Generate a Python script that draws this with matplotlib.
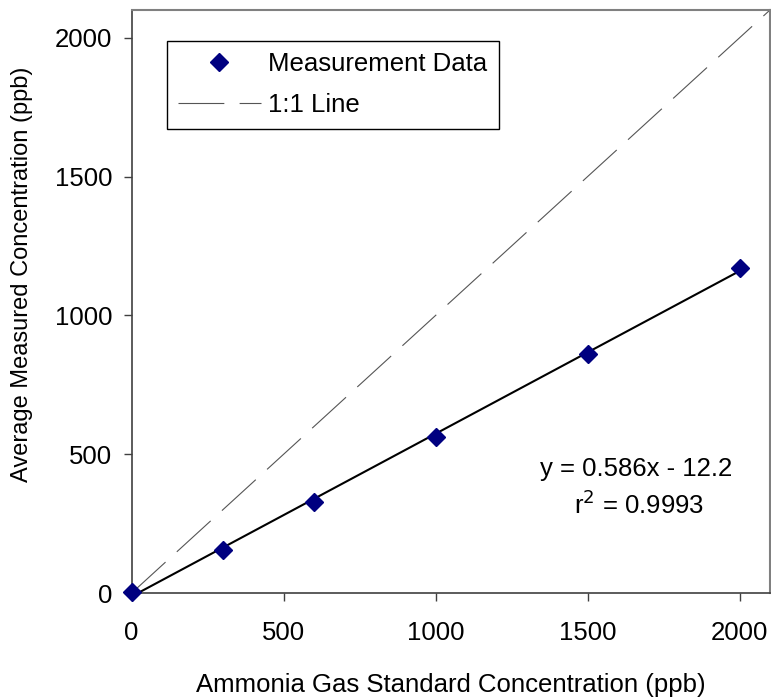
import matplotlib.pyplot as plt
import numpy as np

plt.rcParams['font.family'] = ['Liberation Sans', 'DejaVu Sans']
plt.rcParams['lines.scale_dashes'] = False

# Standard vs. measured ammonia concentration (ppb)
standard_ppb = [0, 300, 600, 1000, 1500, 2000]
measured_ppb = [2, 155, 328, 563, 860, 1170]
fit_slope = 0.586
fit_intercept = -12.2
fit_r2 = 0.9993

fs = 18.5

fig = plt.figure(figsize=(7.71, 6.98), dpi=100)
ax = fig.add_axes([0.1708, 0.1504, 0.8279, 0.8353])

# 1:1 reference line
ax.plot([0, 2100], [0, 2100], color='#555555', linewidth=0.8,
        dashes=(33, 11), label='1:1 Line', zorder=2)

# linear fit
fit_x = np.array([0, 2000])
ax.plot(fit_x, fit_slope * fit_x + fit_intercept, color='black',
        linewidth=1.5, zorder=3)

ax.plot(standard_ppb, measured_ppb, linestyle='none', marker='D',
        markersize=9.5, color='#000080', label='Measurement Data',
        clip_on=False, zorder=4)

ax.set_xlim(0, 2100)
ax.set_ylim(0, 2100)
ax.set_xticks([0, 500, 1000, 1500, 2000])
ax.set_yticks([0, 500, 1000, 1500, 2000])
ax.tick_params(axis='both', direction='out', length=6, width=1,
               labelsize=fs, color='#404040')
ax.tick_params(axis='y', pad=8)
ax.tick_params(axis='x', pad=14)

for side in ['top', 'right']:
    ax.spines[side].set_color('#808080')
    ax.spines[side].set_linewidth(1.5)
for side in ['left', 'bottom']:
    ax.spines[side].set_color('#404040')
    ax.spines[side].set_linewidth(1.2)

ax.set_xlabel('Ammonia Gas Standard Concentration (ppb)', fontsize=fs,
              labelpad=20)
ax.set_ylabel('Average Measured Concentration (ppb)', fontsize=17)
ax.yaxis.set_label_coords(-0.155, 0.547)

ax.text(0.79, 0.213, f'y = {fit_slope}x - {abs(fit_intercept)}',
        transform=ax.transAxes, ha='center', va='center', fontsize=fs)
ax.text(0.795, 0.152, f'r$^2$ = {fit_r2}', transform=ax.transAxes,
        ha='center', va='center', fontsize=fs)

handles, labels = ax.get_legend_handles_labels()
leg = ax.legend(handles[::-1], labels[::-1], loc='upper left',
                bbox_to_anchor=(0.055, 0.947), borderaxespad=0,
                fontsize=fs, handlelength=3.2, handletextpad=0.3,
                labelspacing=0.65, borderpad=0.45, fancybox=False,
                framealpha=1, edgecolor='black')
leg.get_frame().set_linewidth(1.0)

fig.savefig('out.png', dpi=100)
